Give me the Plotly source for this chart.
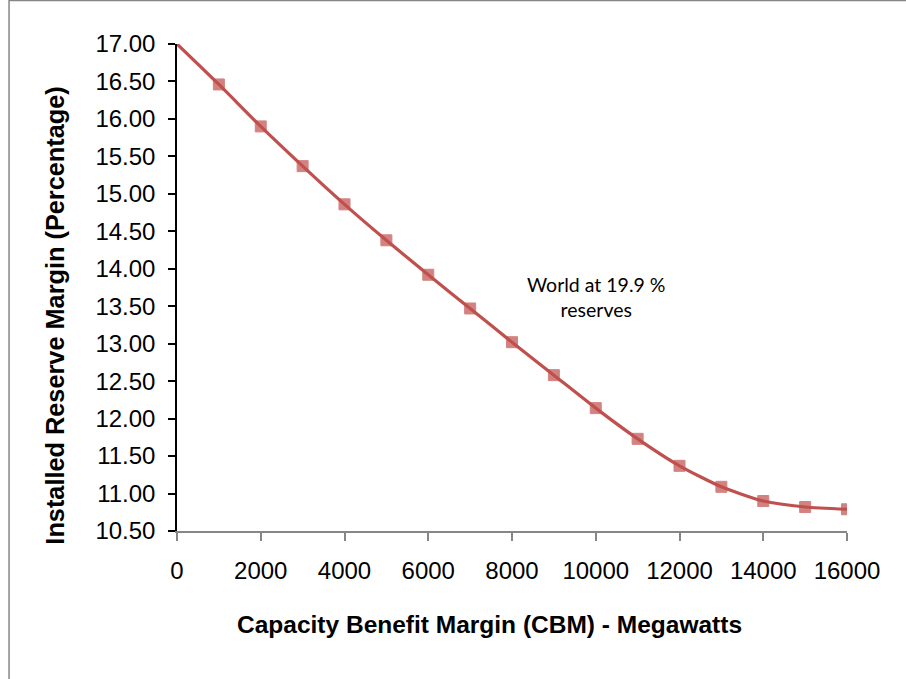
import plotly.graph_objects as go

# Data
cbm_mw = [0, 1000, 2000, 3000, 4000, 5000, 6000, 7000, 8000, 9000, 10000,
          11000, 12000, 13000, 14000, 15000, 16000]
reserve_pct = [17.00, 16.46, 15.90, 15.37, 14.86, 14.38, 13.92, 13.47, 13.02,
               12.58, 12.14, 11.73, 11.37, 11.09, 10.90, 10.82, 10.79]
x_ticks = [0, 2000, 4000, 6000, 8000, 10000, 12000, 14000, 16000]
y_ticks = [10.5, 11.0, 11.5, 12.0, 12.5, 13.0, 13.5, 14.0, 14.5, 15.0, 15.5,
           16.0, 16.5, 17.0]
y_tick_labels = [f"{v:.2f}" for v in y_ticks]
x_title = "Capacity Benefit Margin (CBM) - Megawatts"
y_title = "Installed Reserve Margin (Percentage)"
note_text = "World at 19.9 %<br>reserves"

# Layout geometry (pixels)
WIDTH, HEIGHT = 906, 679
L, R, T, B = 177.3, 846.7, 44.3, 530.7
PW, PH = R - L, B - T


def px(xp):
    return (xp - L) / PW


def py(yp):
    return (B - yp) / PH


RED = "#C0504D"
marker_sizes = [0] + [11] * (len(cbm_mw) - 1)

fig = go.Figure()
fig.add_trace(go.Scatter(
    x=cbm_mw, y=reserve_pct, mode="lines+markers",
    line=dict(color=RED, width=3.2, shape="spline", smoothing=0.6),
    marker=dict(symbol="square", size=marker_sizes, color=RED,
                line=dict(color=RED, width=1)),
    showlegend=False, hoverinfo="x+y",
))

fig.update_layout(
    width=WIDTH, height=HEIGHT,
    margin=dict(l=L, r=WIDTH - R, t=T, b=HEIGHT - B, pad=0),
    paper_bgcolor="white", plot_bgcolor="white",
    font=dict(family="Liberation Sans, Arial, sans-serif", color="black"),
    xaxis=dict(
        range=[0, 16000], tickvals=x_ticks, ticktext=[str(v) for v in x_ticks],
        showgrid=False, zeroline=False, showline=True, linecolor="#868686",
        linewidth=1.5, ticks="outside", ticklen=8, tickcolor="#868686",
        tickwidth=1.5, tickfont=dict(size=24), ticklabelstandoff=9,
    ),
    yaxis=dict(
        range=[10.5, 17.0], tickvals=y_ticks, ticktext=y_tick_labels,
        showgrid=False, zeroline=False, showline=True, linecolor="black",
        linewidth=1.5, ticks="outside", ticklen=7, tickcolor="black",
        tickwidth=1.5, tickfont=dict(size=24), ticklabelstandoff=8,
    ),
    shapes=[dict(type="rect", xref="paper", yref="paper",
                 x0=px(9.5), x1=px(1200), y0=py(1200), y1=py(0.8),
                 line=dict(color="#868686", width=1.5), fillcolor="rgba(0,0,0,0)",
                 layer="below")],
    annotations=[
        dict(text=f"<b>{x_title}</b>", xref="paper", yref="paper",
             x=px(489.5), y=py(624), xanchor="center", yanchor="middle",
             showarrow=False, font=dict(size=24.5, color="black")),
        dict(text=f"<b>{y_title}</b>", xref="paper", yref="paper",
             x=px(55), y=py(316), xanchor="center", yanchor="middle",
             textangle=-90, showarrow=False, font=dict(size=25.3, color="black")),
        dict(text=note_text, xref="paper", yref="paper",
             x=px(596), y=py(297), xanchor="center", yanchor="middle",
             showarrow=False, align="center",
             font=dict(family="Lato, Open Sans, sans-serif", size=19.5, color="black")),
    ],
)

fig.write_html("out.html")
